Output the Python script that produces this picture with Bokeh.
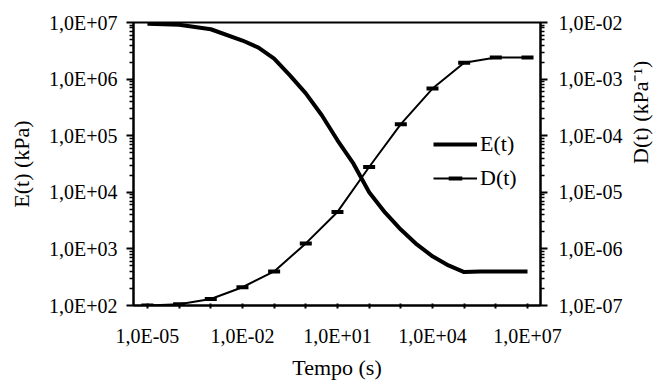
import math
from bokeh.plotting import figure
from bokeh.models import (Range1d, LogScale, LogAxis, FixedTicker,
                          CustomJSTickFormatter, Legend, LegendItem)
from bokeh.embed import file_html
from bokeh.resources import INLINE

# ---- data ----
time_E = [1e-5, 1e-4, 1e-3, 1e-2, 3.2e-2, 1e-1, 3.2e-1, 1.0, 3.2, 10.0, 32.0,
          100.0, 316.0, 1e3, 3.2e3, 1e4, 3.2e4, 1e5, 3.2e5, 1e6, 1e7]
E_kPa = [9.5e6, 9.1e6, 7.6e6, 4.8e6, 3.6e6, 2.3e6, 1.15e6, 5.6e5, 2.3e5, 8.3e4,
         3.2e4, 1.0e4, 4.4e3, 2.2e3, 1.2e3, 7.4e2, 5.1e2, 3.9e2, 4.0e2, 4.0e2, 4.0e2]

time_D = [1e-5, 1e-4, 1e-3, 1e-2, 1e-1, 1.0, 10.0, 100.0, 1e3, 1e4, 1e5, 1e6, 1e7]
D_inv_kPa = [1.0e-7, 1.05e-7, 1.3e-7, 2.1e-7, 4.0e-7, 1.25e-6, 4.5e-6, 2.8e-5,
             1.6e-4, 6.8e-4, 1.95e-3, 2.4e-3, 2.4e-3]

x_major = [10.0 ** k for k in range(-5, 8)]
E_major = [10.0 ** k for k in range(2, 8)]
D_major = [10.0 ** k for k in range(-7, -1)]

FONT = "'Liberation Serif', 'Times New Roman', serif"


def minors(lo, hi):
    return [m * 10.0 ** k for k in range(lo, hi) for m in range(2, 10)]


fmt_code = """
const e = Math.round(Math.log10(tick));
if (STEP > 1 && ((e - BASE) % STEP) != 0) { return ""; }
const s = e < 0 ? "-" : "+";
return "1,0E" + s + String(Math.abs(e)).padStart(2, "0");
"""

p = figure(width=668, height=385, x_axis_type="log", y_axis_type="log",
           x_range=Range1d(10 ** -5.44, 10 ** 7.41), y_range=Range1d(1e2, 1e7),
           output_backend="svg", toolbar_location=None,
           min_border_left=133, min_border_right=128,
           min_border_top=22, min_border_bottom=80)
p.background_fill_color = "white"
p.border_fill_color = "white"
p.outline_line_color = "black"
p.outline_line_width = 2
p.xgrid.visible = False
p.ygrid.visible = False

p.extra_y_ranges = {"d": Range1d(1e-7, 1e-2)}
p.extra_y_scales = {"d": LogScale()}


def style_axis(ax, label, tin, tout, mout, standoff, lstandoff):
    ax.axis_label = label
    ax.axis_label_text_font = FONT
    ax.axis_label_text_font_size = "22px"
    ax.axis_label_text_font_style = "normal"
    ax.axis_label_text_color = "black"
    ax.axis_label_standoff = lstandoff
    ax.major_label_text_font = FONT
    ax.major_label_text_font_size = "20px"
    ax.major_label_text_color = "black"
    ax.major_label_standoff = standoff
    ax.axis_line_color = "black"
    ax.axis_line_width = 2
    ax.major_tick_line_color = "black"
    ax.major_tick_line_width = 2
    ax.minor_tick_line_color = "black"
    ax.minor_tick_line_width = 1.5
    ax.major_tick_in = tin
    ax.major_tick_out = tout
    ax.minor_tick_in = 0
    ax.minor_tick_out = mout


xa = p.xaxis[0]
xa.ticker = FixedTicker(ticks=x_major, minor_ticks=[])
xa.formatter = CustomJSTickFormatter(code=fmt_code.replace("STEP", "3").replace("BASE", "-5"))
style_axis(xa, "Tempo (s)", 2, 3, 0, 16, 5)

ya = p.yaxis[0]
ya.ticker = FixedTicker(ticks=E_major, minor_ticks=minors(2, 7))
ya.formatter = CustomJSTickFormatter(code=fmt_code.replace("STEP", "1").replace("BASE", "0"))
style_axis(ya, "E(t) (kPa)", 0, 7, 4, 9, 12)

ra = LogAxis(y_range_name="d")
ra.ticker = FixedTicker(ticks=D_major, minor_ticks=minors(-7, -2))
ra.formatter = CustomJSTickFormatter(code=fmt_code.replace("STEP", "1").replace("BASE", "0"))
style_axis(ra, "D(t) (kPa\u207B\u00B9)", 0, 7, 4, 11, 15)
if "axis_label_orientation" in ra.properties():
    ra.axis_label_orientation = math.pi / 2
p.add_layout(ra, "right")

rE = p.line(time_E, E_kPa, line_color="black", line_width=4)
rDl = p.line(time_D, D_inv_kPa, y_range_name="d", line_color="black", line_width=2)
rDm = p.scatter(time_D, D_inv_kPa, y_range_name="d", marker="dash", size=12,
                line_color="black", line_width=4)

legend = Legend(items=[LegendItem(label="E(t)", renderers=[rE]),
                       LegendItem(label="D(t)", renderers=[rDl, rDm])],
                location=(300, 110), padding=0, margin=0, spacing=0,
                glyph_width=44, glyph_height=34, label_height=34,
                label_standoff=3, label_text_font=FONT,
                label_text_font_size="22px", label_text_color="black",
                background_fill_alpha=0, border_line_alpha=0)
p.add_layout(legend, "center")

open("out.html", "w").write(file_html(p, INLINE))
